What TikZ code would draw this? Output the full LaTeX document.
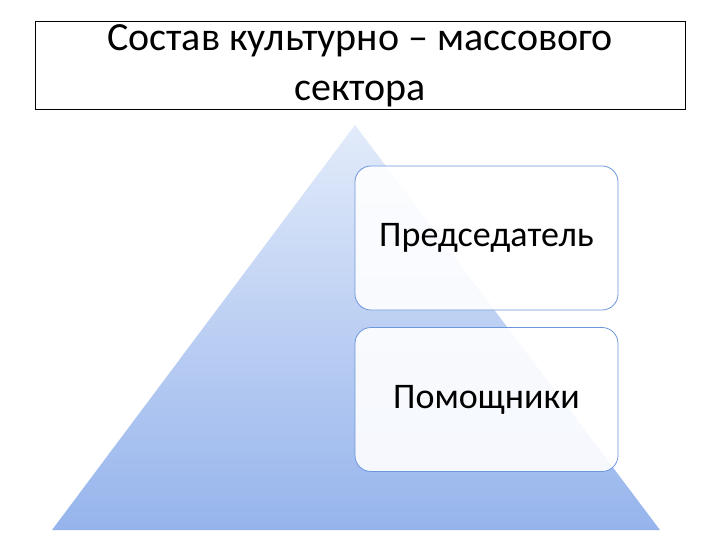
\documentclass[tikz,border=0pt]{standalone}
\usepackage{fontspec}
\setmainfont{Carlito}
\begin{document}
\begin{tikzpicture}[x=1pt,y=-1pt,
  lvl/.style={draw={rgb,255:red,110;green,150;blue,220}, line width=0.8pt, rounded corners=16pt, fill=white, fill opacity=0.9, text opacity=1, minimum width=263pt, minimum height=144pt, font=\fontsize{36}{40}\selectfont}]
\useasboundingbox (0,0) rectangle (720,540);
\fill[white] (0,0) rectangle (720,540);
\shade[top color={rgb,255:red,226;green,235;blue,250}, bottom color={rgb,255:red,150;green,180;blue,236}] (355,125) -- (660,530) -- (52,530) -- cycle;
\node[draw=black, line width=1pt, minimum width=650pt, minimum height=88pt, align=center, font=\fontsize{40}{50}\selectfont, inner sep=0pt] (title) at (360,66) {Состав культурно – массового\\сектора};
\node[lvl] (chair) at (486.5,238) {Председатель};
\node[lvl] (help) at (486.5,399.5) {Помощники};
\end{tikzpicture}
\end{document}
